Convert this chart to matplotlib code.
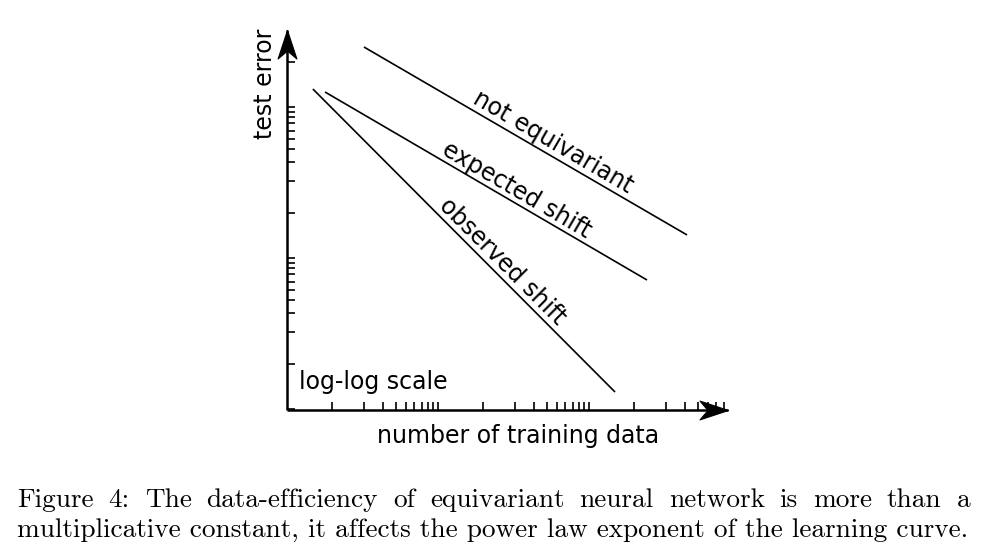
import numpy as np
import matplotlib
matplotlib.use("Agg")
import matplotlib.pyplot as plt
from matplotlib.path import Path

# ---------------- data (schematic, log-log) ----------------
series_names = ["not equivariant", "expected shift", "observed shift"]
x_start = [2.0, 0.86, 0.66]
x_end = [2234.0, 937.0, 468.0]
y_start = [979.0, 368.0, 393.0]
y_end = [16.5, 6.2, 0.544]

x_label = "number of training data"
y_label = "test error"
scale_note = "log-log scale"
caption_line1 = "Figure 4:  The data-efficiency of equivariant neural network is more than a"
caption_line2 = "multiplicative constant, it affects the power law exponent of the learning curve."

W, H = 984, 555
DPI = 100
fig = plt.figure(figsize=(W / DPI, H / DPI), dpi=DPI)
plt.rcParams['font.family'] = ['DejaVu Sans']

# axes placed in pixel geometry of reference
x0, x1, ytop, ybot = 287, 728, 30, 410
ax = fig.add_axes([x0 / W, (H - ybot) / H, (x1 - x0) / W, (ybot - ytop) / H])
ax.set_xscale('log')
ax.set_yscale('log')

DEC = 106.0     # pixels per decade
PER = 151.0 / DEC  # period of tick clusters in decades
ax.set_xlim(10 ** (-(332 - 287) / DEC), 10 ** ((728 - 332) / DEC))
ax.set_ylim(10 ** (-(410 - 364) / DEC), 10 ** ((364 - 30) / DEC))

for xs, xe, ys, ye in zip(x_start, x_end, y_start, y_end):
    ax.plot([xs, xe], [ys, ye], color='black', lw=1.2, solid_capstyle='butt')

# tick clusters
def cluster_ticks(lo, hi):
    vals = []
    for k in range(-2, 5):
        base = 10 ** (k * PER)
        for n in range(1, 11):
            v = base * n
            if lo * 1.02 < v < hi * 0.95:
                vals.append(v)
    return vals

xl = ax.get_xlim(); yl = ax.get_ylim()
ax.xaxis.set_major_locator(matplotlib.ticker.FixedLocator(cluster_ticks(*xl)))
ax.yaxis.set_major_locator(matplotlib.ticker.FixedLocator(cluster_ticks(*yl)))
ax.xaxis.set_minor_locator(matplotlib.ticker.NullLocator())
ax.yaxis.set_minor_locator(matplotlib.ticker.NullLocator())
ax.tick_params(axis='both', which='major', direction='in', length=6, width=1.2,
               labelbottom=False, labelleft=False, color='black')
ax.set_xlim(*xl); ax.set_ylim(*yl)

for s in ['top', 'right']:
    ax.spines[s].set_visible(False)
for s in ['left', 'bottom']:
    ax.spines[s].set_linewidth(1.8)
    ax.spines[s].set_capstyle('butt')

# stealth arrow heads at the axis ends
def stealth(angle):
    pts = np.array([[0, 0], [-1.0, 0.33], [-0.72, 0], [-1.0, -0.33], [0, 0]])
    a = np.deg2rad(angle)
    R = np.array([[np.cos(a), -np.sin(a)], [np.sin(a), np.cos(a)]])
    pts = pts @ R.T
    return Path(pts, [Path.MOVETO, Path.LINETO, Path.LINETO, Path.LINETO, Path.CLOSEPOLY])

ax.plot([1], [0], transform=ax.transAxes, marker=stealth(0), markersize=41,
        color='black', clip_on=False, markeredgewidth=0.8)
ax.plot([0], [1], transform=ax.transAxes, marker=stealth(90), markersize=41,
        color='black', clip_on=False, markeredgewidth=0.8)

FS = 17
def figtext(px, py, s, **kw):
    fig.text(px / W, 1 - py / H, s, **kw)

figtext(518, 436, x_label, fontsize=FS, ha='center', va='center')
figtext(265, 84, y_label, fontsize=FS, ha='center', va='center', rotation=90)
figtext(299, 382, scale_note, fontsize=FS, ha='left', va='center')

figtext(553, 142, series_names[0], fontsize=FS, ha='center', va='center',
        rotation=-30.2, rotation_mode='anchor')
figtext(517, 190, series_names[1], fontsize=FS, ha='center', va='center',
        rotation=-30.3, rotation_mode='anchor')
figtext(502, 262, series_names[2], fontsize=FS, ha='center', va='center',
        rotation=-45, rotation_mode='anchor')

# ---------------- caption (justified) ----------------
renderer = fig.canvas.get_renderer()
cap_family = ['cmr10', 'DejaVu Serif']
left_px, right_px = 17, 970

def width_px(s, size):
    t = fig.text(0, 0, s, fontsize=size, family=cap_family)
    w = t.get_window_extent(renderer).width
    t.remove()
    return w

size = 16.0
w2 = width_px(caption_line2, size)
size = size * (968 - left_px) / w2

def justified(line, base_y):
    words = line.replace(':  ', ': ').split(' ')
    widths = [width_px(w, size) for w in words]
    gap = (right_px - left_px - sum(widths)) / (len(words) - 1)
    x = left_px
    for w, wd in zip(words, widths):
        figtext(x, base_y, w, fontsize=size, family=cap_family, ha='left', va='baseline')
        x += wd + gap

justified(caption_line1, 507)
figtext(left_px, 537, caption_line2, fontsize=size, family=cap_family, ha='left', va='baseline')

fig.savefig('out.png', dpi=DPI)
